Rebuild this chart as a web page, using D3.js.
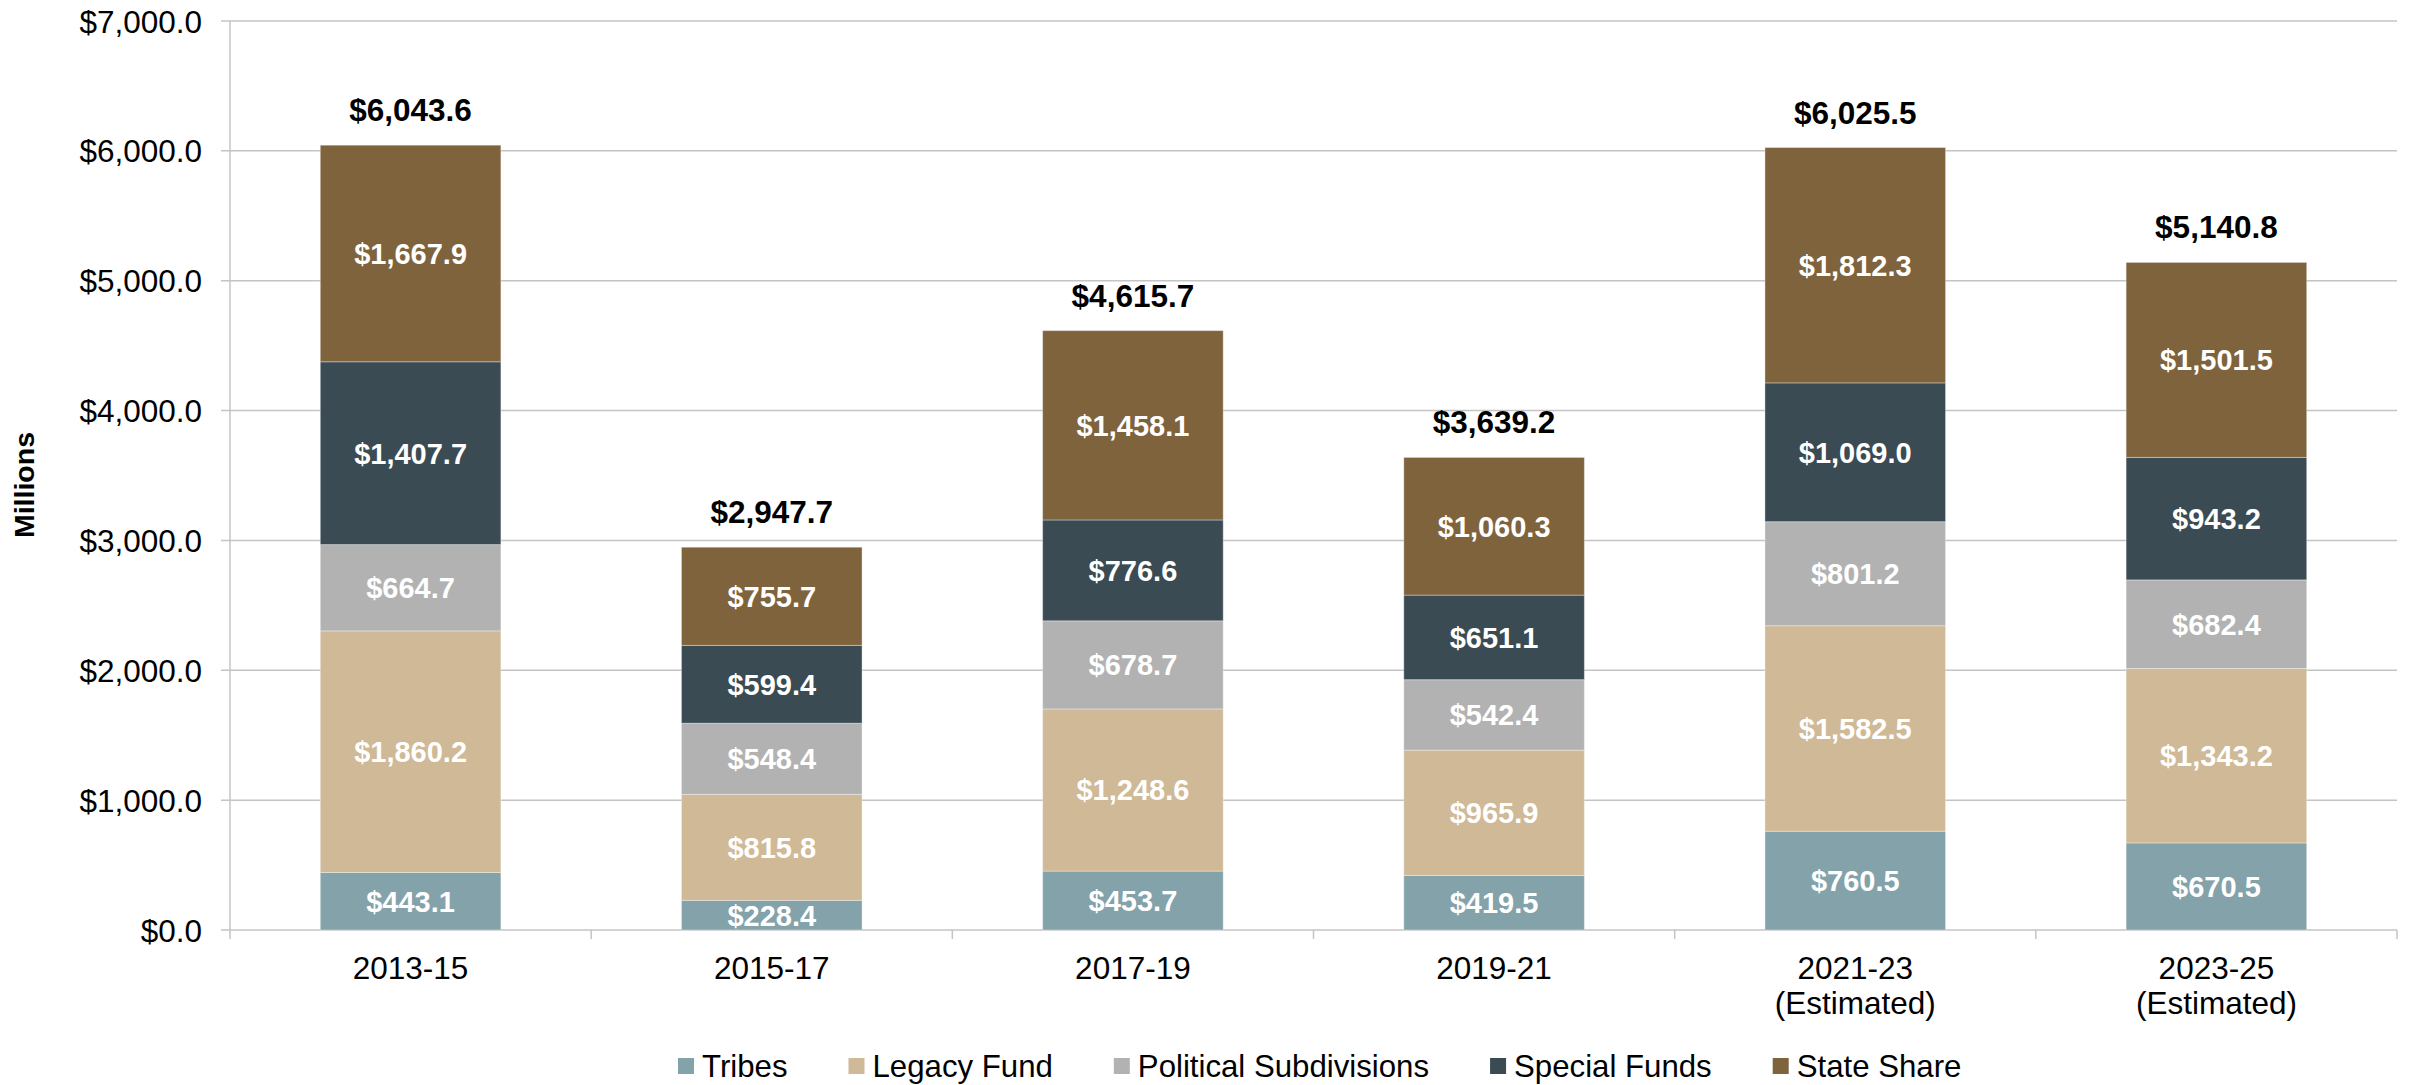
<!DOCTYPE html>
<html>
<head>
<meta charset="utf-8">
<script src="https://cdn.jsdelivr.net/npm/d3@7"></script>
<style>
  html, body { margin: 0; padding: 0; background: #fff; }
  svg { display: block; font-family: "Liberation Sans", Arial, sans-serif; }
</style>
</head>
<body>
<svg id="chart" width="2420" height="1085"></svg>
<script>
const categories = ["2013-15", "2015-17", "2017-19", "2019-21", "2021-23|(Estimated)", "2023-25|(Estimated)"];
const seriesNames = ["Tribes", "Legacy Fund", "Political Subdivisions", "Special Funds", "State Share"];
const tribes = [443.1, 228.4, 453.7, 419.5, 760.5, 670.5];
const legacyFund = [1860.2, 815.8, 1248.6, 965.9, 1582.5, 1343.2];
const politicalSubdivisions = [664.7, 548.4, 678.7, 542.4, 801.2, 682.4];
const specialFunds = [1407.7, 599.4, 776.6, 651.1, 1069.0, 943.2];
const stateShare = [1667.9, 755.7, 1458.1, 1060.3, 1812.3, 1501.5];
const totals = [6043.6, 2947.7, 4615.7, 3639.2, 6025.5, 5140.8];
const yTicks = [0, 1000, 2000, 3000, 4000, 5000, 6000, 7000];
const colors = ["#84a2aa", "#cfb997", "#b2b2b2", "#3a4b53", "#7f633d"];

(function () {
const seriesValues = [tribes, legacyFund, politicalSubdivisions, specialFunds, stateShare];
const rows = categories.map((c, i) => {
  const r = { cat: c };
  seriesNames.forEach((s, k) => r[s] = seriesValues[k][i]);
  return r;
});

const svg = d3.select("#chart");
const pLeft = 230, pRight = 2397, pTop = 21, pBottom = 930;
const fmt = v => "$" + d3.format(",.1f")(v);

const x = d3.scaleBand().domain(categories).range([pLeft, pRight]).paddingInner(0.5).paddingOuter(0.25);
const y = d3.scaleLinear().domain([0, 7000]).range([pBottom, pTop]);

// gridlines
svg.append("g").selectAll("line").data(yTicks).join("line")
  .attr("x1", pLeft - 9).attr("x2", pRight)
  .attr("y1", d => y(d)).attr("y2", d => y(d))
  .attr("stroke", "#c4c4c4").attr("stroke-width", 1.5);

// y axis line
svg.append("line").attr("x1", pLeft).attr("x2", pLeft).attr("y1", pTop).attr("y2", pBottom + 9)
  .attr("stroke", "#c4c4c4").attr("stroke-width", 1.5);

// category boundary ticks
const step = x.step();
const bounds = d3.range(1, categories.length + 1).map(i => pLeft + i * step);
svg.append("g").selectAll("line").data(bounds).join("line")
  .attr("x1", d => d).attr("x2", d => d).attr("y1", pBottom).attr("y2", pBottom + 9)
  .attr("stroke", "#c4c4c4").attr("stroke-width", 1.5);

// y tick labels via axis
const yAxis = svg.append("g").attr("transform", `translate(${pLeft - 28},0)`)
  .call(d3.axisLeft(y).tickValues(yTicks).tickFormat(fmt).tickSize(0).tickPadding(0));
yAxis.select(".domain").remove();
yAxis.selectAll("text").attr("font-size", 31.5).attr("fill", "#000")
  .attr("font-family", "'Liberation Sans', Arial, sans-serif").attr("dy", "0.35em");

// stacked bars
const stack = d3.stack().keys(seriesNames)(rows);
const layers = svg.append("g").selectAll("g").data(stack).join("g")
  .attr("fill", (d, i) => colors[i]);
layers.selectAll("rect").data(d => d).join("rect")
  .attr("x", d => x(d.data.cat))
  .attr("width", x.bandwidth())
  .attr("y", d => y(d[1]))
  .attr("height", d => y(d[0]) - y(d[1]))
  .attr("stroke", "rgba(255,255,255,0.35)").attr("stroke-width", 1);

// inner labels
layers.selectAll("text").data(d => d.map(p => ({ p, key: d.key }))).join("text")
  .attr("x", d => x(d.p.data.cat) + x.bandwidth() / 2)
  .attr("y", d => (y(d.p[0]) + y(d.p[1])) / 2)
  .attr("dy", "0.36em")
  .attr("text-anchor", "middle")
  .attr("fill", "#fff").attr("font-weight", "bold").attr("font-size", 29)
  .text(d => fmt(d.p.data[d.key]));

// total labels
svg.append("g").selectAll("text").data(categories).join("text")
  .attr("x", c => x(c) + x.bandwidth() / 2)
  .attr("y", (c, i) => y(totals[i]) - 24)
  .attr("text-anchor", "middle")
  .attr("font-weight", "bold").attr("font-size", 31.5).attr("fill", "#000")
  .text((c, i) => fmt(totals[i]));

// category labels
const catG = svg.append("g").selectAll("text").data(categories).join("text")
  .attr("x", c => x(c) + x.bandwidth() / 2)
  .attr("y", 979)
  .attr("text-anchor", "middle")
  .attr("font-size", 31.5).attr("fill", "#000");
catG.each(function (c) {
  const parts = c.split("|");
  const t = d3.select(this);
  parts.forEach((p, i) => {
    t.append("tspan").attr("x", x(c) + x.bandwidth() / 2).attr("dy", i === 0 ? 0 : 35).text(p);
  });
});

// y axis title
svg.append("text")
  .attr("transform", "translate(34,485) rotate(-90)")
  .attr("text-anchor", "middle")
  .attr("font-weight", "bold").attr("font-size", 28.5).attr("fill", "#000")
  .text("Millions");

// legend
const legend = svg.append("g");
let lx = 678;
seriesNames.forEach((name, i) => {
  legend.append("rect").attr("x", lx).attr("y", 1058).attr("width", 16).attr("height", 16).attr("fill", colors[i]);
  const t = legend.append("text").attr("x", lx + 24).attr("y", 1077)
    .attr("font-size", 31.2).attr("fill", "#000").text(name);
  const w = t.node().getComputedTextLength();
  lx = lx + 24 + w + 61;
});
})();
</script>
</body>
</html>
